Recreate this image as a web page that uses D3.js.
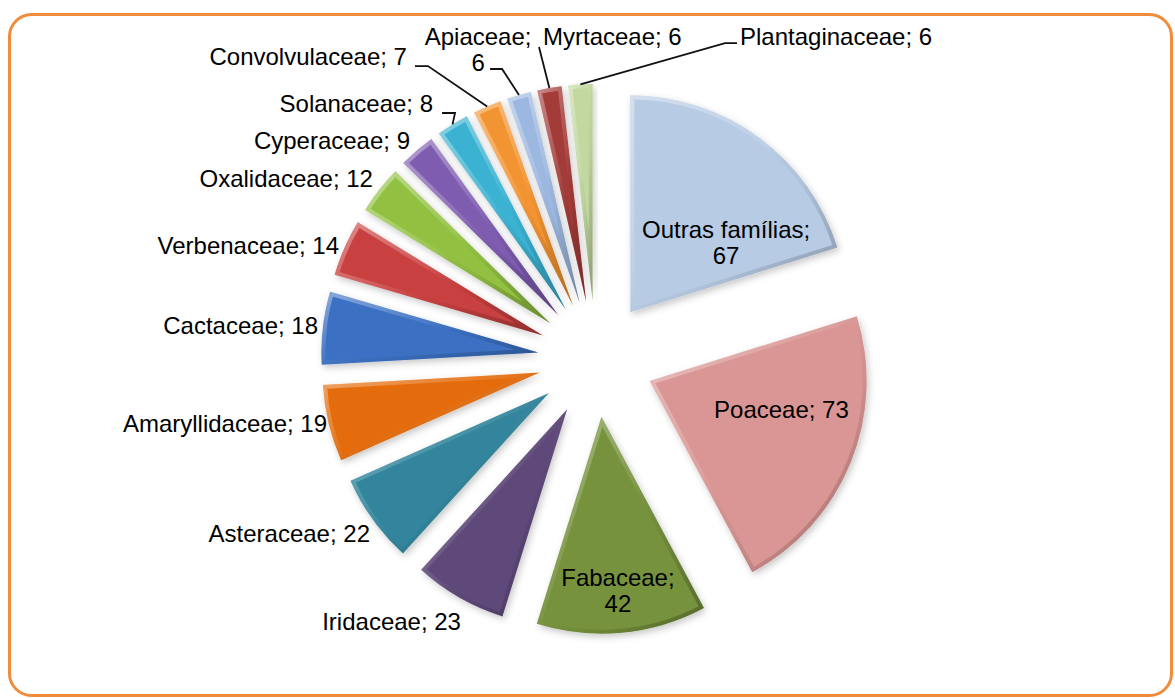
<!DOCTYPE html>
<html>
<head>
<meta charset="utf-8">
<script src="https://cdn.jsdelivr.net/npm/d3@7"></script>
<style>
  body { margin: 0; background: #fff; }
  text { font-family: "Liberation Sans", Arial, sans-serif; font-size: 24px; fill: #000; }
</style>
</head>
<body>
<div id="chart"></div>
<script>
// data, clockwise from 12 o'clock
const families = ["Outras famílias", "Poaceae", "Fabaceae", "Iridaceae", "Asteraceae", "Amaryllidaceae",
  "Cactaceae", "Verbenaceae", "Oxalidaceae", "Cyperaceae", "Solanaceae", "Convolvulaceae",
  "Apiaceae", "Myrtaceae", "Plantaginaceae"]
const counts = [67, 73, 42, 23, 22, 19, 18, 14, 12, 9, 8, 7, 6, 6, 6]
const colors = ["#B7CBE4", "#D99694", "#76923C", "#5F497A", "#31859C", "#E46C0A",
  "#3A6FC2", "#C9403F", "#92C143", "#7E5CB0", "#3AB2D2", "#F39433",
  "#9DB8E0", "#A33B38", "#C2D8A0"]

// label layout (offsets only, anchors come from the arcs)
const insideLabels = {
  "Outras famílias": [31.5, 17.3],
  "Poaceae": [31.3, -12.4],
  "Fabaceae": [6.2, 65.3]
}
const outsideLabels = {
  "Iridaceae": [6.7, 15.2],
  "Asteraceae": [5.2, 7.9],
  "Amaryllidaceae": [8.1, -2.3],
  "Cactaceae": [5.2, -1.2],
  "Verbenaceae": [3.7, 1.8],
  "Oxalidaceae": [1.7, -5.3],
  "Cyperaceae": [-0.3, -2.3]
}
const leaderLabels = {
  "Solanaceae": { text: [-19.5, -12.4], anchor: "end", stub: [[-10.5, -11.4], [2.5, -11.4]] },
  "Convolvulaceae": { text: [-80.2, -41.4], anchor: "end", stub: [[-72.2, -40.4], [-59.2, -40.4]] },
  "Apiaceae": { text: [-40.9, -50], anchor: "middle", stub: [[-28.9, -26], [-16.9, -26]] },
  "Myrtaceae": { text: [-6.4, -43], anchor: "start", stub: [[-10.4, -41]] },
  "Plantaginaceae": { text: [159.6, -39.4], anchor: "start", stub: [[156.6, -41.4], [144.6, -41.4]] }
}
const twoLine = ["Outras famílias", "Fabaceae", "Apiaceae"]

const width = 1175
const height = 698
const center = [596, 359]
const radius = 217
const explode = 58

const svg = d3.select("#chart").append("svg")
    .attr("width", width)
    .attr("height", height)

const defs = svg.append("defs")
defs.append("filter")
    .attr("id", "shadow")
    .attr("x", "-20%").attr("y", "-20%").attr("width", "140%").attr("height", "140%")
  .append("feDropShadow")
    .attr("dx", 2).attr("dy", 3)
    .attr("stdDeviation", 3.5)
    .attr("flood-color", "#000")
    .attr("flood-opacity", 0.22)

const bevel = defs.append("linearGradient")
    .attr("id", "bevel")
    .attr("x1", 0).attr("y1", 0).attr("x2", 1).attr("y2", 1)
bevel.append("stop").attr("offset", "0%").attr("stop-color", "#fff").attr("stop-opacity", 0.4)
bevel.append("stop").attr("offset", "45%").attr("stop-color", "#fff").attr("stop-opacity", 0.08)
bevel.append("stop").attr("offset", "60%").attr("stop-color", "#000").attr("stop-opacity", 0.04)
bevel.append("stop").attr("offset", "100%").attr("stop-color", "#000").attr("stop-opacity", 0.28)

// frame
svg.append("rect")
    .attr("x", 9.5)
    .attr("y", 14.5)
    .attr("width", 1162)
    .attr("height", 681)
    .attr("rx", 22)
    .attr("fill", "#fff")
    .attr("stroke", "#F08C3C")
    .attr("stroke-width", 3)

const data = families.map((f, i) => ({ family: f, count: counts[i], color: colors[i] }))
const pie = d3.pie().sort(null).value(d => d.count)
const arcs = pie(data)
const arc = d3.arc().innerRadius(0).outerRadius(radius)

const midAngle = d => (d.startAngle + d.endAngle) / 2
const polar = (a, r) => [center[0] + Math.sin(a) * r, center[1] - Math.cos(a) * r]

const slices = svg.append("g")
  .selectAll("g")
  .data(arcs)
  .join("g")
    .attr("transform", d => {
      const p = polar(midAngle(d), explode)
      return `translate(${p[0]},${p[1]})`
    })

slices.append("clipPath")
    .attr("id", (d, i) => `clip${i}`)
  .append("path")
    .attr("d", arc)

slices.append("path")
    .attr("d", arc)
    .attr("fill", d => d.data.color)
    .attr("filter", "url(#shadow)")

slices.append("path")
    .attr("d", arc)
    .attr("fill", "none")
    .attr("stroke", "url(#bevel)")
    .attr("stroke-width", 8)
    .attr("stroke-linejoin", "round")
    .attr("clip-path", (d, i) => `url(#clip${i})`)

const labels = svg.append("g")

const labelText = (g, d, x, y, anchor) => {
  const t = g.append("text").attr("text-anchor", anchor).attr("x", x).attr("y", y)
  if (twoLine.includes(d.data.family)) {
    t.append("tspan").attr("x", x).text(`${d.data.family};`)
    t.append("tspan").attr("x", x).attr("dy", 26).text(d.data.count)
  } else {
    t.text(`${d.data.family}; ${d.data.count}`)
  }
}

arcs.forEach(d => {
  const f = d.data.family
  const a = midAngle(d)
  if (insideLabels[f]) {
    const apex = polar(a, explode)
    const c = arc.centroid(d)
    const x = apex[0] + c[0] + insideLabels[f][0]
    const yc = apex[1] + c[1] + insideLabels[f][1]
    const two = twoLine.includes(f)
    labelText(labels, d, x, two ? yc - 4.5 : yc + 8.5, "middle")
  } else if (outsideLabels[f]) {
    const p = polar(a, explode + radius + 10)
    labelText(labels, d, p[0] + outsideLabels[f][0], p[1] + outsideLabels[f][1] + 8.5, "end")
  } else if (leaderLabels[f]) {
    const cfg = leaderLabels[f]
    const p = polar(a, explode + radius)
    const pts = cfg.stub.map(s => [p[0] + s[0], p[1] + s[1]]).concat([p])
    labels.append("path")
        .attr("d", d3.line()(pts))
        .attr("fill", "none")
        .attr("stroke", "#111")
        .attr("stroke-width", 1.8)
    labelText(labels, d, p[0] + cfg.text[0], p[1] + cfg.text[1], cfg.anchor)
  }
})
</script>
</body>
</html>
